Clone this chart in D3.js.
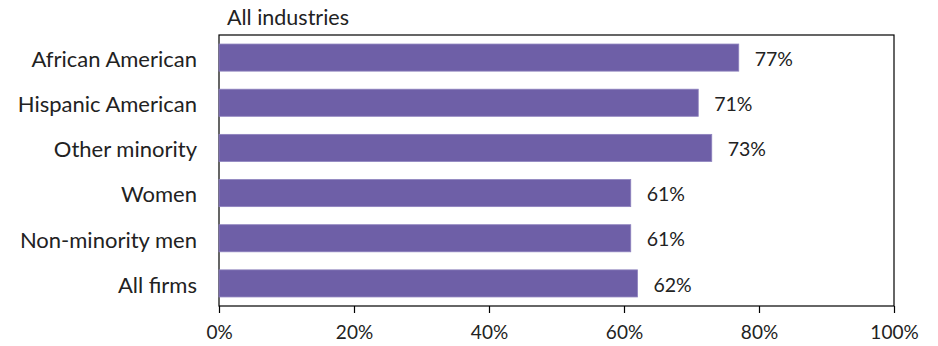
<!DOCTYPE html>
<html>
<head>
<meta charset="utf-8">
<script src="https://cdn.jsdelivr.net/npm/d3@7"></script>
<style>
  html, body { margin: 0; padding: 0; background: #fff; }
  svg text { font-family: Lato, "Open Sans", sans-serif; fill: #222; }
</style>
</head>
<body>
<svg id="chart" width="938" height="346"></svg>
<script>
// Share of firms by owner group, all industries
const categories = ["African American", "Hispanic American", "Other minority", "Women", "Non-minority men", "All firms"];
const values = [77, 71, 73, 61, 61, 62];
const tickValues = [0, 20, 40, 60, 80, 100];
const title = "All industries";

const FONT = 'Lato, "Open Sans", sans-serif';
const svg = d3.select("#chart");
const margin = { left: 219, right: 44, top: 35, bottom: 40 };
const W = 938, H = 346;
const x0 = margin.left, x1 = W - margin.right;
const y0 = margin.top, y1 = H - margin.bottom;

const x = d3.scaleLinear().domain([0, 100]).range([x0, x1]);
const y = d3.scaleBand().domain(categories).range([y0, y1]).paddingInner(0.4).paddingOuter(0.2);

// plot frame
svg.append("rect")
  .attr("x", x0).attr("y", y0)
  .attr("width", x1 - x0).attr("height", y1 - y0)
  .attr("fill", "none").attr("stroke", "#000").attr("stroke-width", 1.2);

// bars
svg.append("g").selectAll("rect").data(values).join("rect")
  .attr("x", x(0))
  .attr("y", (d, i) => y(categories[i]))
  .attr("width", d => x(d) - x(0))
  .attr("height", y.bandwidth())
  .attr("fill", "#6E5FA7")
  .attr("stroke", "#8E82BE").attr("stroke-width", 0.8);

// value labels
svg.append("g").selectAll("text").data(values).join("text")
  .attr("x", d => x(d) + 16)
  .attr("y", (d, i) => y(categories[i]) + y.bandwidth() / 2)
  .attr("dy", "0.42em")
  .attr("font-size", 19.5)
  .text(d => d + "%");

// category axis
const yAxis = svg.append("g")
  .attr("transform", `translate(${x0},0)`)
  .call(d3.axisLeft(y).tickSize(0).tickPadding(22));
yAxis.select(".domain").remove();
yAxis.selectAll("text").attr("font-size", 22).attr("fill", "#222")
  .attr("dy", "0.42em")
  .style("font-family", FONT);

// value axis
const xAxis = svg.append("g")
  .attr("transform", `translate(0,${y1})`)
  .call(d3.axisBottom(x).tickValues(tickValues).tickSize(7).tickPadding(13).tickFormat(d => d + "%"));
xAxis.select(".domain").remove();
xAxis.selectAll("line").attr("stroke", "#000").attr("stroke-width", 1.2);
xAxis.selectAll("text").attr("font-size", 19).attr("fill", "#222")
  .style("font-family", FONT);

// title
svg.append("text")
  .attr("x", 227).attr("y", 25)
  .attr("font-size", 21.5)
  .text(title);
</script>
</body>
</html>
